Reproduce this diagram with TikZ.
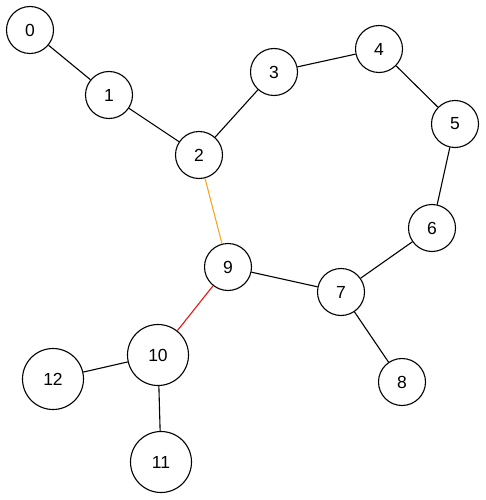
\documentclass[tikz,border=0pt]{standalone}
\usepackage{fontspec}
\setmainfont{Liberation Sans}
\begin{document}
\begin{tikzpicture}[x=1pt,y=-1pt,
  vtx/.style={circle,draw=black,line width=1.1pt,fill=white,inner sep=0pt,minimum size=47pt,font=\fontsize{17.5}{20}\selectfont},
  bigvtx/.style={vtx,minimum size=61pt},
  edge/.style={line width=1.1pt,black},
  orangeedge/.style={line width=1.1pt,draw={rgb,255:red,245;green,166;blue,35}},
  rededge/.style={line width=1.1pt,draw={rgb,255:red,230;green,20;blue,20}}]
\useasboundingbox (0,0) rectangle (486,500);
\node[vtx] (n0) at (30,30) {0};
\node[vtx] (n1) at (109,95) {1};
\node[vtx] (n2) at (199,155) {2};
\node[vtx] (n3) at (274,72) {3};
\node[vtx] (n4) at (379,49) {4};
\node[vtx] (n5) at (455,124) {5};
\node[vtx] (n6) at (432,228) {6};
\node[vtx] (n7) at (341,292) {7};
\node[vtx] (n8) at (402,382) {8};
\node[vtx] (n9) at (228,267) {9};
\node[bigvtx] (n10) at (158,355) {10};
\node[bigvtx] (n11) at (161,462) {11};
\node[bigvtx] (n12) at (53,379) {12};
\draw[edge] (n0) -- (n1);
\draw[edge] (n1) -- (n2);
\draw[edge] (n2) -- (n3);
\draw[edge] (n3) -- (n4);
\draw[edge] (n4) -- (n5);
\draw[edge] (n5) -- (n6);
\draw[edge] (n6) -- (n7);
\draw[edge] (n9) -- (n7);
\draw[edge] (n7) -- (n8);
\draw[orangeedge] (n2) -- (n9);
\draw[rededge] (n9) -- (n10);
\draw[edge] (n10) -- (n12);
\draw[edge] (n10) -- (n11);
\end{tikzpicture}
\end{document}
